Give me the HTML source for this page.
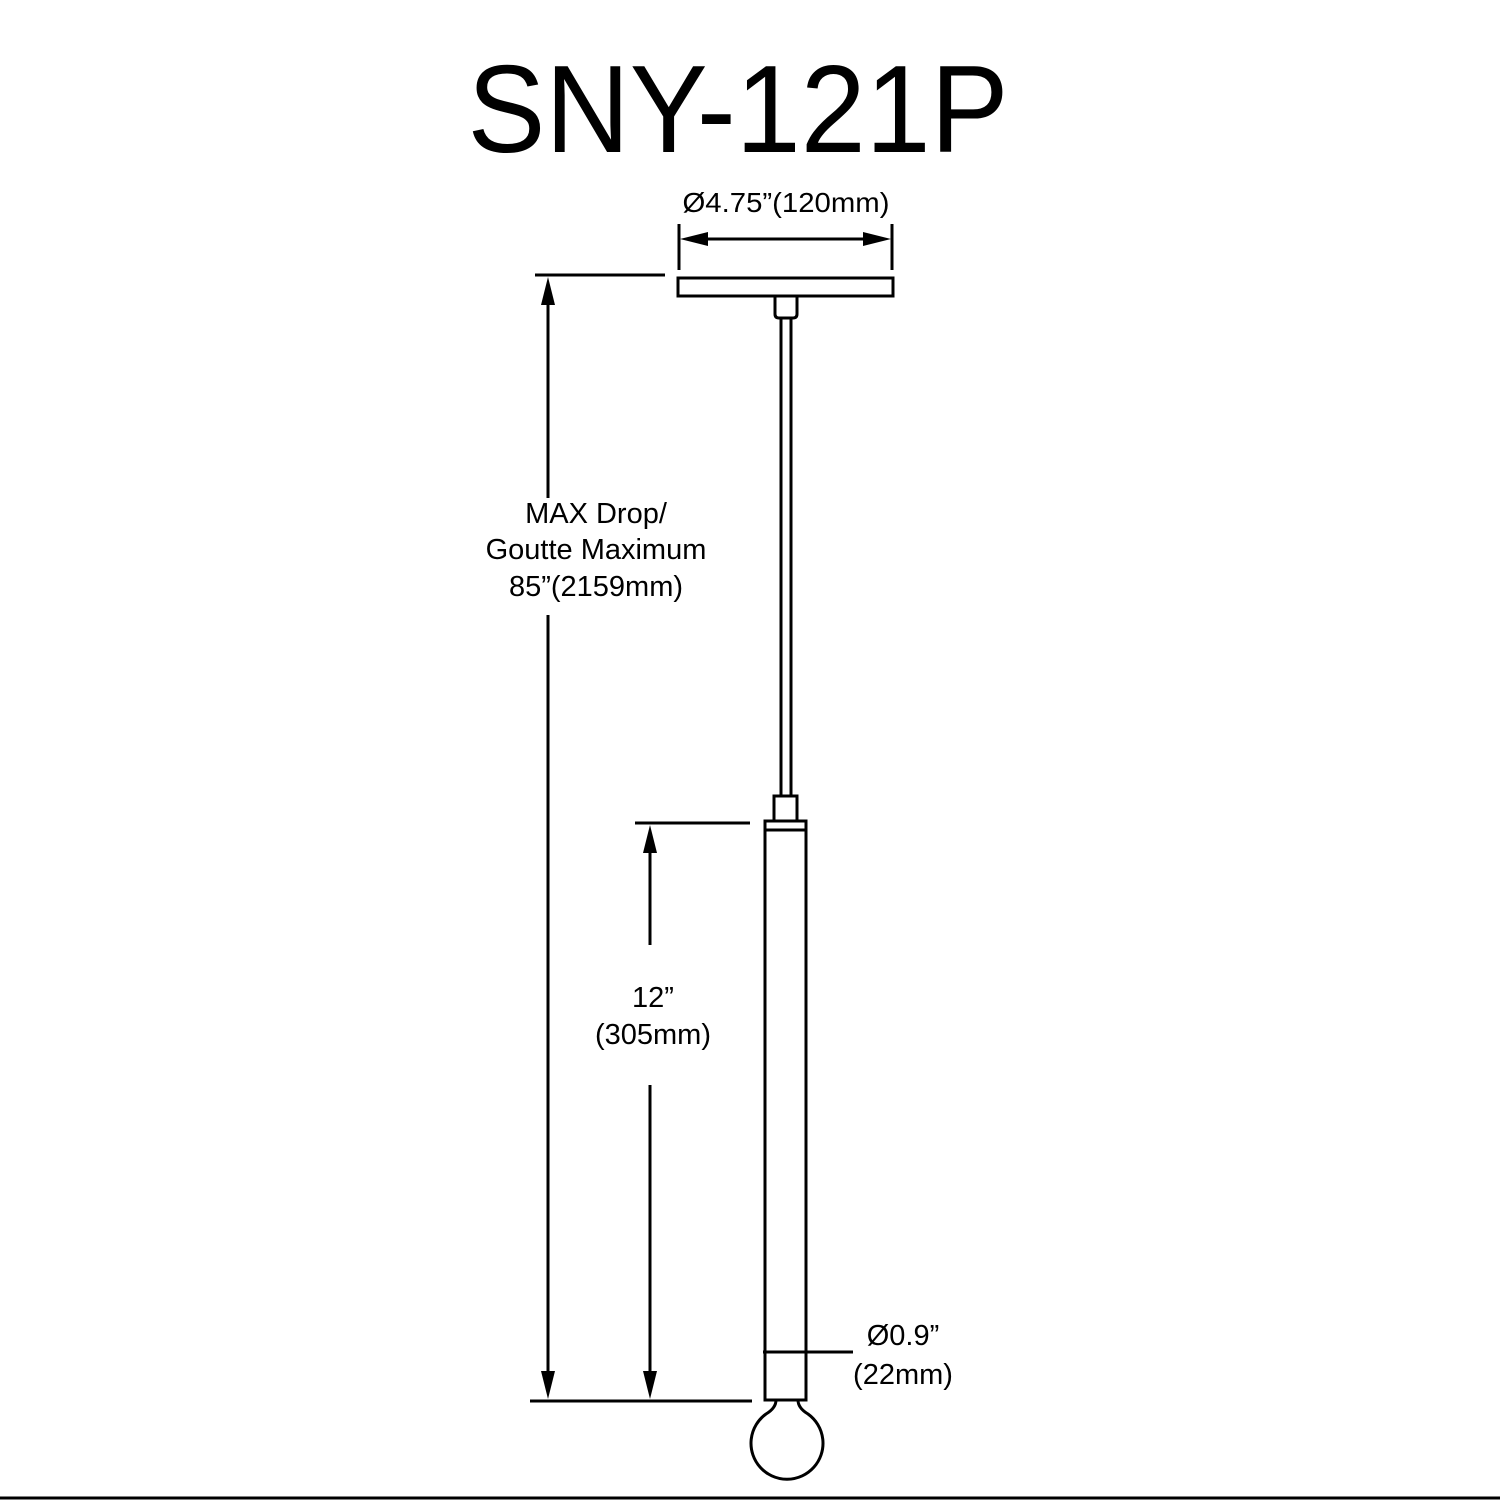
<!DOCTYPE html>
<html><head><style>html,body{margin:0;padding:0;background:#fff;}svg{display:block}</style></head>
<body>
<svg width="1500" height="1500" viewBox="0 0 1500 1500" xmlns="http://www.w3.org/2000/svg" font-family="Liberation Sans, Arial, sans-serif">
<text x="738" y="152" font-size="124" text-anchor="middle" textLength="541" lengthAdjust="spacingAndGlyphs">SNY-121P</text>
<text x="786" y="212" font-size="28" text-anchor="middle" textLength="207" lengthAdjust="spacingAndGlyphs">Ø4.75”(120mm)</text>
<g stroke="#000" stroke-width="3" fill="none">
<line x1="679" y1="224" x2="679" y2="270"/>
<line x1="892" y1="224" x2="892" y2="270"/>
<line x1="700" y1="239" x2="872" y2="239"/>
<rect x="678" y="278" width="215" height="18"/>
<path d="M775 296 V314 Q775 318 779 318 H793 Q797 318 797 314 V296"/>
<line x1="781" y1="318" x2="781" y2="796"/>
<line x1="791" y1="318" x2="791" y2="796"/>
<rect x="774" y="796" width="23" height="25"/>
<rect x="765" y="821" width="41" height="579"/>
<line x1="765" y1="830" x2="806" y2="830"/>
<line x1="763" y1="1352" x2="853" y2="1352"/>
<path d="M776 1400 Q776 1408 766 1414 A36 36 0 1 0 808 1414 Q798 1408 798 1400"/>
<line x1="535" y1="275" x2="665" y2="275"/>
<line x1="548" y1="300" x2="548" y2="498"/>
<line x1="548" y1="615" x2="548" y2="1375"/>
<line x1="530" y1="1401" x2="752" y2="1401"/>
<line x1="635" y1="823" x2="750" y2="823"/>
<line x1="650" y1="848" x2="650" y2="945"/>
<line x1="650" y1="1085" x2="650" y2="1375"/>
<line x1="0" y1="1498" x2="1500" y2="1498"/>
</g>
<g fill="#000">
<polygon points="680,239 708,232 708,246"/>
<polygon points="891,239 863,232 863,246"/>
<polygon points="548,277 541,305 555,305"/>
<polygon points="548,1399 541,1371 555,1371"/>
<polygon points="650,825 643,853 657,853"/>
<polygon points="650,1399 643,1371 657,1371"/>
</g>
<g font-size="29" text-anchor="middle">
<text x="596" y="523">MAX Drop/</text>
<text x="596" y="559">Goutte Maximum</text>
<text x="596" y="596">85”(2159mm)</text>
<text x="653" y="1007">12”</text>
<text x="653" y="1044">(305mm)</text>
<text x="903" y="1345">Ø0.9”</text>
<text x="903" y="1384">(22mm)</text>
</g>
</svg>
</body></html>
